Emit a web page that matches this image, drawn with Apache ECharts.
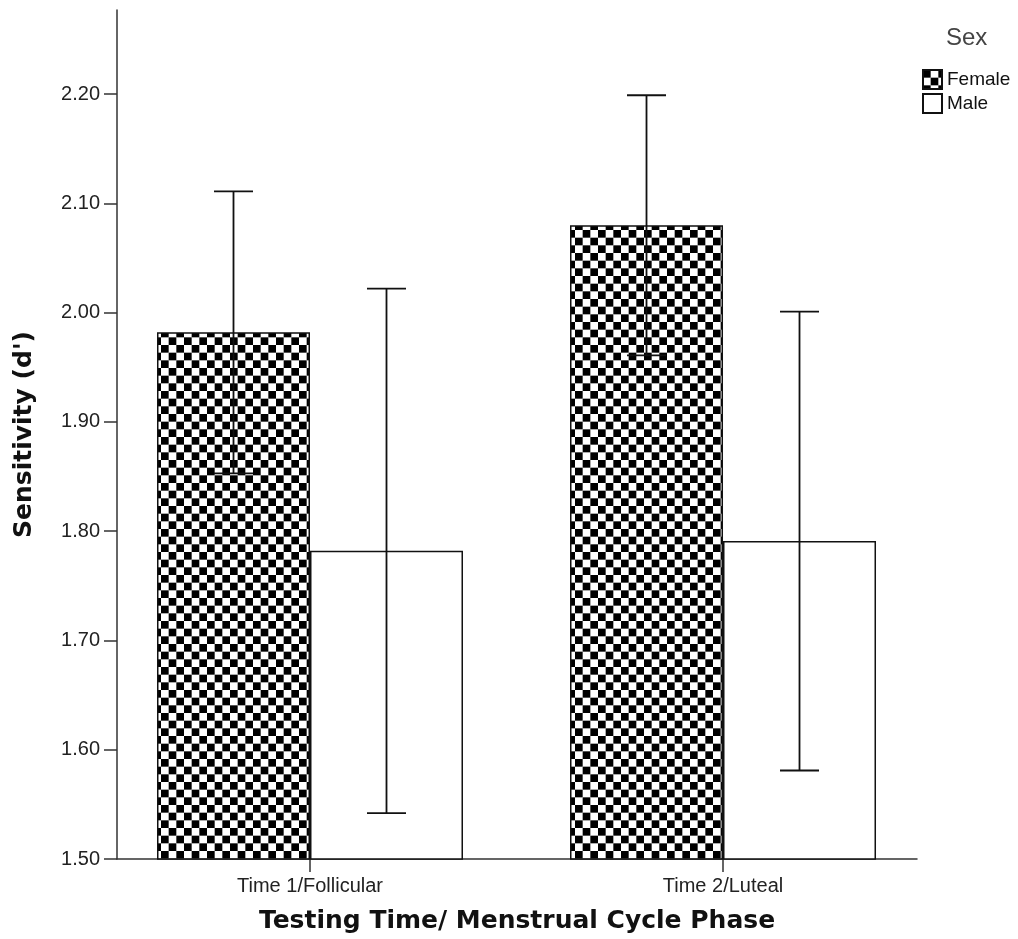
<!DOCTYPE html>
<html><head><meta charset="utf-8">
<script src="https://cdn.jsdelivr.net/npm/echarts@6/dist/echarts.min.js"></script>
<style>html,body{margin:0;padding:0;background:#fff}#c{width:1018px;height:939px}</style>
</head><body><div id="c"></div>
<script>
const categories = ['Time 1/Follicular', 'Time 2/Luteal'];
const seriesNames = ['Female', 'Male'];
const femaleMean = [1.982, 2.080];
const femaleErr = [0.129, 0.119];
const maleMean = [1.782, 1.791];
const maleErr = [0.240, 0.210];
const yTicks = [1.5, 1.6, 1.7, 1.8, 1.9, 2.0, 2.1, 2.2];
const xTicks = [0, 1];

const FONT = "'Liberation Sans', Arial, sans-serif";
const BOLD = "'DejaVu Sans', Verdana, sans-serif";
const BAR_W = 153;
const CAP_W = 39;

function checker() {
  const c = document.createElement('canvas');
  const n = 6, size = 46, s = size / n;
  c.width = c.height = size;
  const g = c.getContext('2d');
  g.fillStyle = '#fff'; g.fillRect(0, 0, size, size);
  g.fillStyle = '#000';
  for (let i = 0; i < n; i++) for (let j = 0; j < n; j++)
    if ((i + j) % 2 === 0) g.fillRect(i * s, j * s, s, s);
  return c;
}
const pat = checker();

function errSeries(means, errs, side) {
  return {
    type: 'custom', silent: true, z: 10,
    data: means.map((m, i) => [xTicks[i], m - errs[i], m + errs[i]]),
    renderItem: (params, api) => {
      const x = api.value(0);
      const lo = api.coord([x, api.value(1)]);
      const hi = api.coord([x, api.value(2)]);
      const cx = lo[0] + side * BAR_W / 2;
      const st = { stroke: '#111', lineWidth: 1.8 };
      return { type: 'group', children: [
        { type: 'line', shape: { x1: cx, y1: lo[1], x2: cx, y2: hi[1] }, style: st },
        { type: 'line', shape: { x1: cx - CAP_W / 2, y1: hi[1], x2: cx + CAP_W / 2, y2: hi[1] }, style: st },
        { type: 'line', shape: { x1: cx - CAP_W / 2, y1: lo[1], x2: cx + CAP_W / 2, y2: lo[1] }, style: st }
      ]};
    }
  };
}

const chart = echarts.init(document.getElementById('c'), null, { renderer: 'canvas' });
chart.setOption({
  animation: false,
  backgroundColor: '#fff',
  title: { text: 'Sex', left: 946, top: 26, padding: 0,
    textStyle: { fontFamily: FONT, fontSize: 24, fontWeight: 'normal', color: '#444' } },
  legend: {
    data: seriesNames, orient: 'vertical', left: 922, top: 69, padding: 0,
    itemWidth: 19, itemHeight: 19, itemGap: 3, icon: 'rect', selectedMode: false,
    textStyle: { fontFamily: FONT, fontSize: 19, color: '#111' }
  },
  grid: { left: 117, right: 101, top: 10, bottom: 79, containLabel: false },
  xAxis: {
    type: 'value', min: -0.4673, max: 1.4697,
    axisLine: { show: true, onZero: false, lineStyle: { color: '#333', width: 1.5 } },
    axisTick: { show: true, length: 13, customValues: xTicks, lineStyle: { color: '#333', width: 1.5 } },
    axisLabel: { customValues: xTicks, formatter: v => categories[Math.round(v)], margin: 17,
      fontFamily: FONT, fontSize: 20, color: '#222' },
    splitLine: { show: false },
    name: 'Testing Time/ Menstrual Cycle Phase', nameLocation: 'middle', nameGap: 50,
    nameTextStyle: { fontFamily: BOLD, fontWeight: 'bold', fontSize: 25, color: '#111' }
  },
  yAxis: {
    type: 'value', min: 1.5, max: 2.277,
    axisLine: { show: true, onZero: false, lineStyle: { color: '#333', width: 1.5 } },
    axisTick: { show: true, length: 13, customValues: yTicks, lineStyle: { color: '#333', width: 1.5 } },
    axisLabel: { customValues: yTicks, formatter: v => v.toFixed(2), margin: 17,
      fontFamily: FONT, fontSize: 20, color: '#222' },
    splitLine: { show: false },
    name: "Sensitivity (d')", nameLocation: 'middle', nameGap: 80,
    nameTextStyle: { fontFamily: BOLD, fontWeight: 'bold', fontSize: 25, color: '#111' }
  },
  series: [
    { type: 'bar', name: 'Female', silent: true, barWidth: BAR_W, barGap: '0%',
      data: femaleMean.map((m, i) => [xTicks[i], m]),
      itemStyle: { color: { image: pat, repeat: 'repeat' }, borderColor: '#111', borderWidth: 1.5 } },
    { type: 'bar', name: 'Male', silent: true, barWidth: BAR_W, barGap: '0%',
      data: maleMean.map((m, i) => [xTicks[i], m]),
      itemStyle: { color: '#fff', borderColor: '#111', borderWidth: 1.5 } },
    errSeries(femaleMean, femaleErr, -1),
    errSeries(maleMean, maleErr, 1)
  ]
});
</script></body></html>
